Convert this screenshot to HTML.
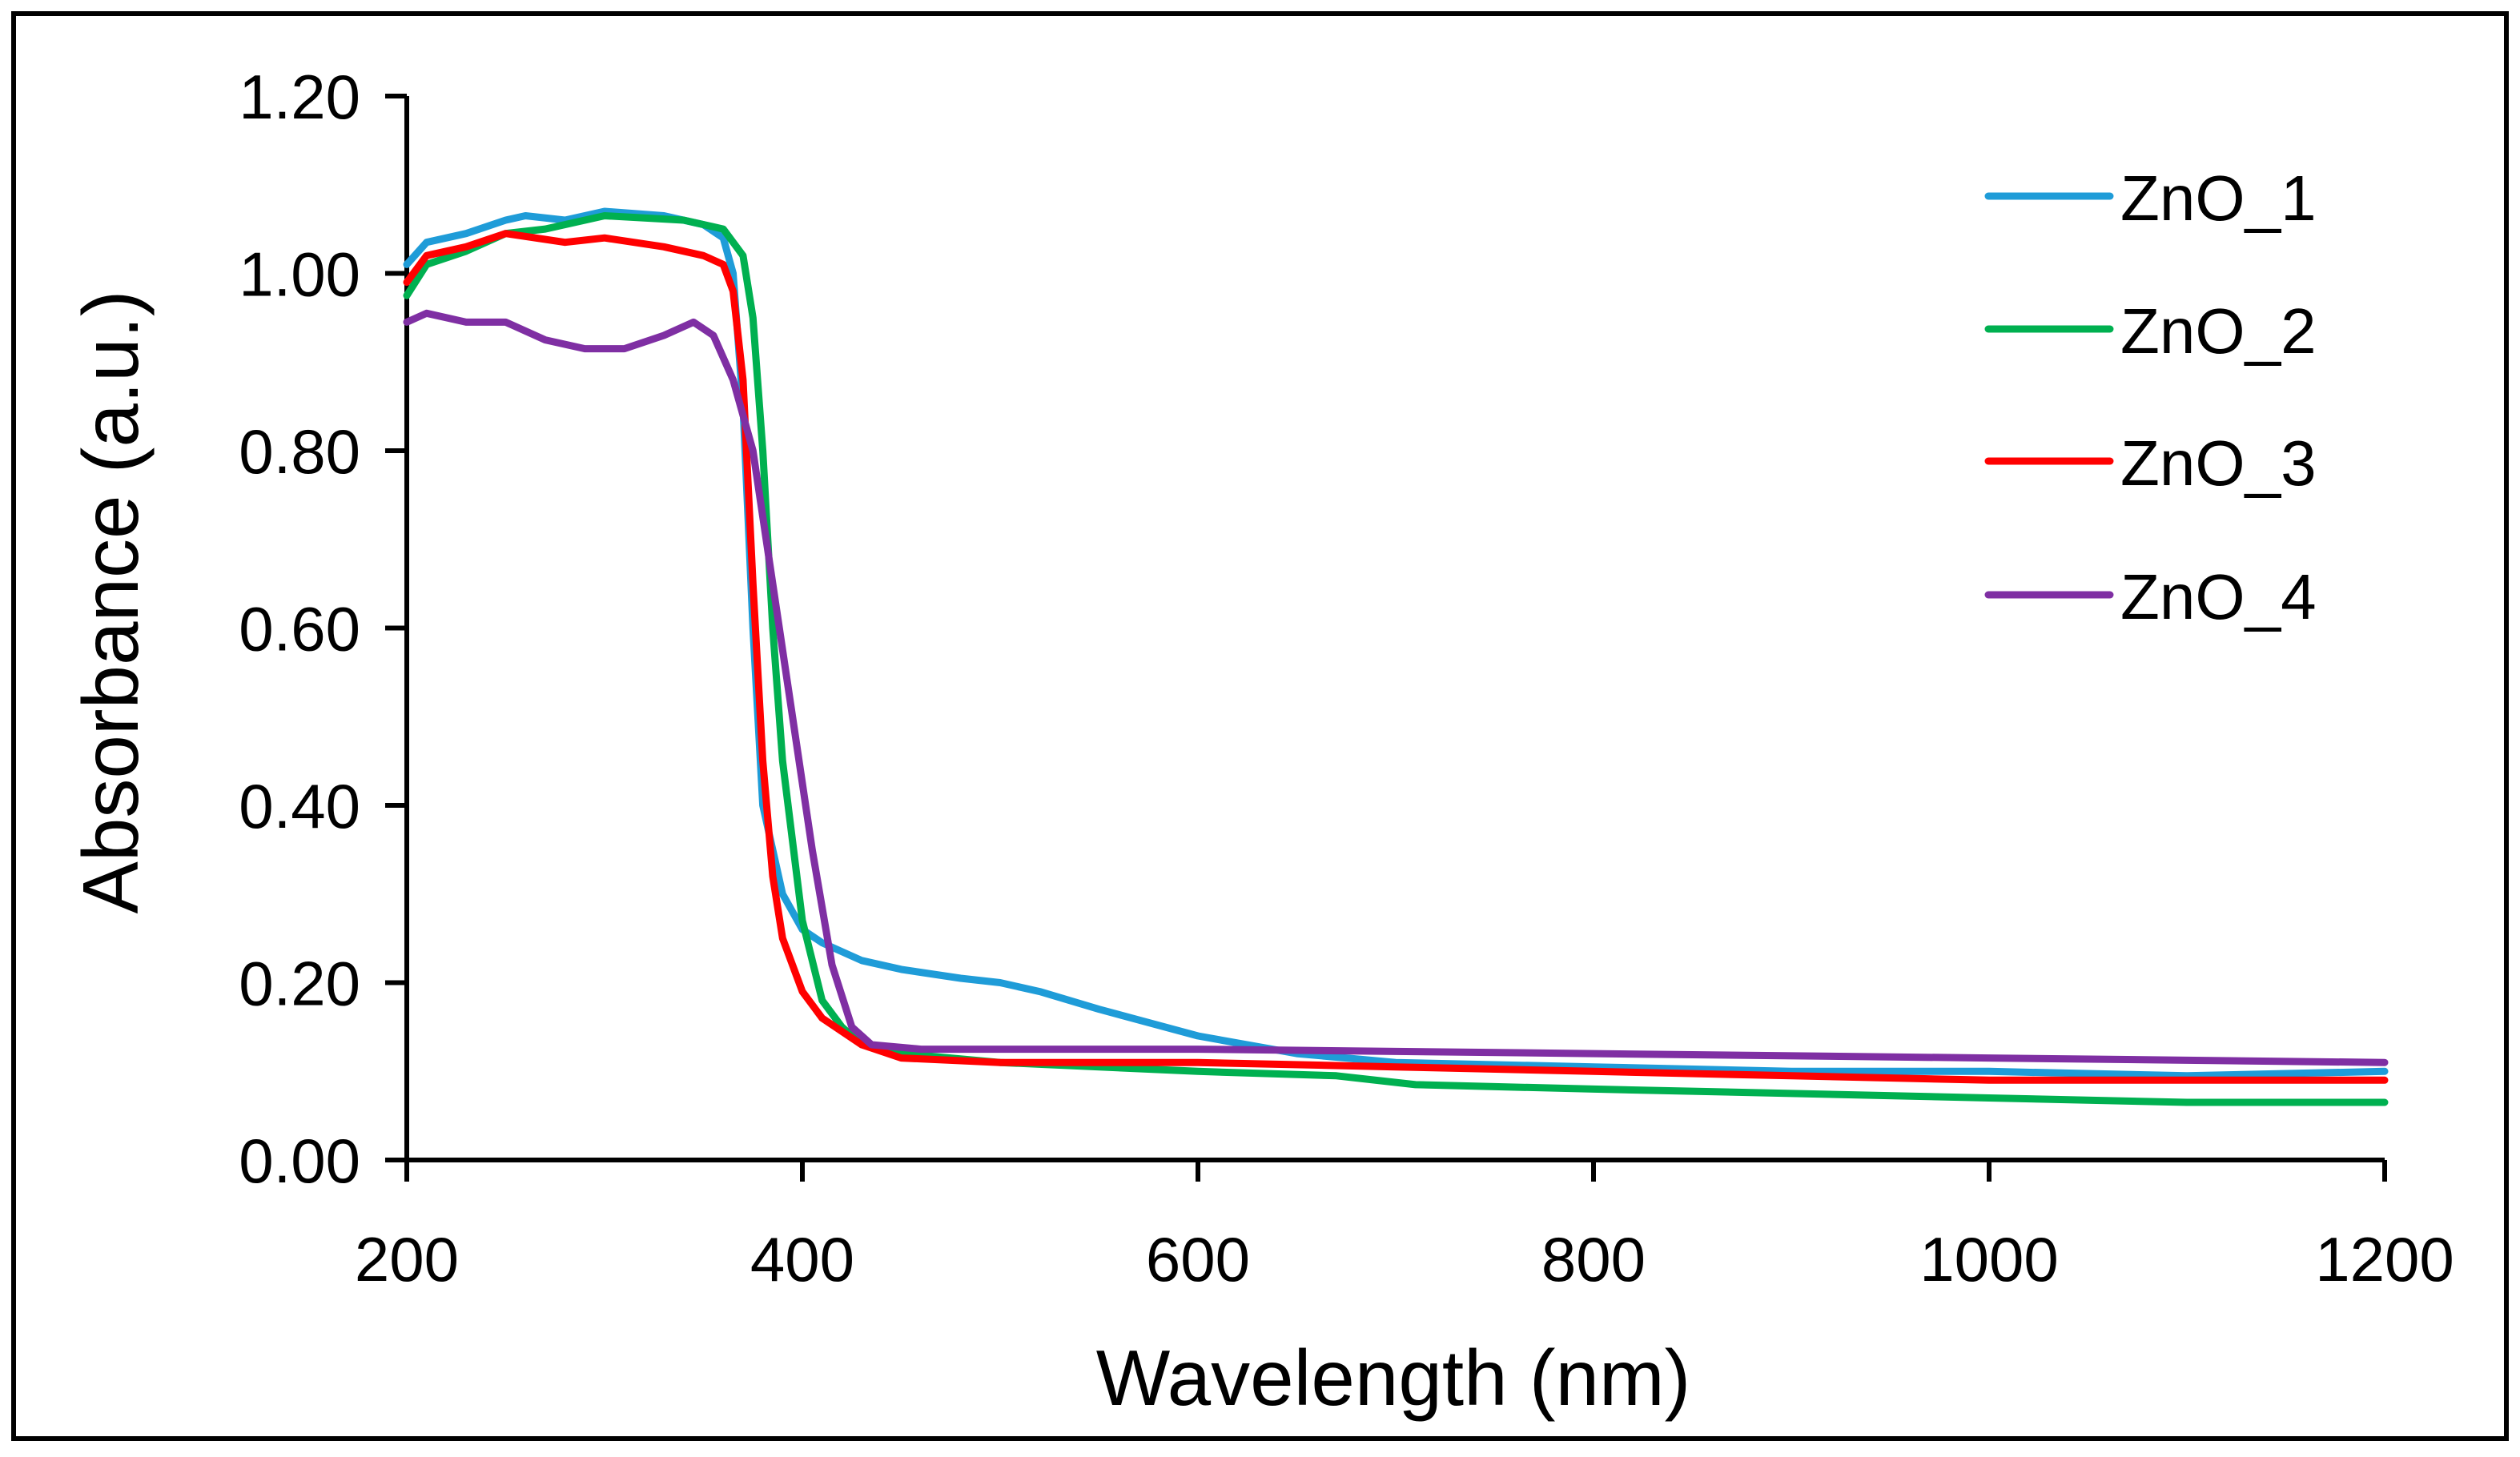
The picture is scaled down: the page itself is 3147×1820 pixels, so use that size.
<!DOCTYPE html>
<html><head><meta charset="utf-8"><style>
html,body{margin:0;padding:0;background:#fff;}
svg{display:block;font-family:"Liberation Sans",sans-serif;}
</style></head><body>
<svg id="chart" width="3147" height="1820" viewBox="0 0 3147 1820" xmlns="http://www.w3.org/2000/svg">
<rect x="17" y="17" width="3113" height="1780" fill="#fff" stroke="#000" stroke-width="6"/>
<g id="axes"></g>
<g id="series"></g>
<g id="legend"></g>
</svg>
<script>
const xTicks = [200,400,600,800,1000,1200];
const yTicks = [0,0.2,0.4,0.6,0.8,1.0,1.2];
const yTickLabels = ["0.00","0.20","0.40","0.60","0.80","1.00","1.20"];
const seriesNames = ["ZnO_1","ZnO_2","ZnO_3","ZnO_4"];
const seriesColors = ["#1f9cd8","#00b050","#ff0000","#7f2fa3"];
const wl1 = [200,210,230,250,260,280,300,330,350,360,365,370,375,380,390,400,410,430,450,480,500,520,550,600,650,700,800,900,1000,1100,1200];
const ab1 = [1.01,1.035,1.045,1.06,1.065,1.06,1.07,1.065,1.055,1.04,1.0,0.85,0.6,0.4,0.3,0.26,0.245,0.225,0.215,0.205,0.2,0.19,0.17,0.14,0.12,0.11,0.105,0.1,0.1,0.095,0.1];
const wl2 = [200,210,230,250,270,300,340,360,370,375,380,385,390,400,410,420,430,450,500,600,670,710,800,900,1000,1100,1200];
const ab2 = [0.975,1.01,1.025,1.045,1.05,1.065,1.06,1.05,1.02,0.95,0.8,0.6,0.45,0.27,0.18,0.15,0.13,0.12,0.11,0.1,0.095,0.085,0.08,0.075,0.07,0.065,0.065];
const wl3 = [200,210,230,250,280,300,330,350,360,365,370,375,380,385,390,400,410,430,450,500,600,700,800,900,1000,1200];
const ab3 = [0.99,1.02,1.03,1.045,1.035,1.04,1.03,1.02,1.01,0.98,0.88,0.65,0.45,0.32,0.25,0.19,0.16,0.13,0.115,0.11,0.11,0.105,0.1,0.095,0.09,0.09];
const wl4 = [200,210,230,250,270,290,310,330,345,355,365,375,385,395,405,415,425,435,460,500,600,800,1000,1200];
const ab4 = [0.945,0.955,0.945,0.945,0.925,0.915,0.915,0.93,0.945,0.93,0.88,0.8,0.65,0.5,0.35,0.22,0.15,0.13,0.125,0.125,0.125,0.12,0.115,0.11];
const allWl = [wl1,wl2,wl3,wl4];
const allAb = [ab1,ab2,ab3,ab4];

const X0=508, X1=2978, Y0=1449, Y1=120;
const xs = v => X0 + (v-200)/(1200-200)*(X1-X0);
const ys = v => Y0 - v/1.2*(Y0-Y1);
const NS="http://www.w3.org/2000/svg";
function mk(tag, attrs, parent){const e=document.createElementNS(NS,tag);for(const k in attrs)e.setAttribute(k,attrs[k]);parent.appendChild(e);return e;}
const axes=document.getElementById('axes');

let ya=mk('line',{x1:X0,y1:Y1,x2:X0,y2:Y0,stroke:'#000','stroke-width':6},axes);


let xa=mk('line',{x1:X0-27,y1:Y0,x2:X1,y2:Y0,stroke:'#000','stroke-width':6},axes);



yTicks.forEach((t,i)=>{
  const y=ys(t);
  const l=mk('line',{x1:X0-27,y1:y,x2:X0,y2:y,stroke:'#000','stroke-width':6},axes);
  
  
  const tx=mk('text',{x:450,y:y+28,'font-size':78,'text-anchor':'end',fill:'#000'},axes);
  tx.textContent=yTickLabels[i];
  
  
});
xTicks.forEach(t=>{
  const x=xs(t);
  const l=mk('line',{x1:x,y1:Y0,x2:x,y2:Y0+27,stroke:'#000','stroke-width':6},axes);
  
  
  const tx=mk('text',{x:x,y:1600,'font-size':78,'text-anchor':'middle',fill:'#000'},axes);
  tx.textContent=String(t);
  
  
});
const xt=mk('text',{x:1740,y:1755,'font-size':98,'text-anchor':'middle',fill:'#000'},axes);
xt.textContent='Wavelength (nm)';


const yt=mk('text',{x:0,y:0,'font-size':98,'text-anchor':'middle',fill:'#000',transform:'translate(172,752) rotate(-90)'},axes);
yt.textContent='Absorbance (a.u.)';



const sg=document.getElementById('series');
allWl.forEach((wl,s)=>{
  const pts=wl.map((w,i)=>xs(w).toFixed(1)+','+ys(allAb[s][i]).toFixed(1)).join(' ');
  const p=mk('polyline',{points:pts,fill:'none',stroke:seriesColors[s],'stroke-width':9,'stroke-linejoin':'round','stroke-linecap':'round'},sg);
  
  
});

const lg=document.getElementById('legend');
const legY=[245,411,576,743];
seriesNames.forEach((n,i)=>{
  const l=mk('line',{x1:2483,y1:legY[i],x2:2635,y2:legY[i],stroke:seriesColors[i],'stroke-width':9,'stroke-linecap':'round'},lg);
  
  
  const t=mk('text',{x:2648,y:legY[i]+30,'font-size':80,fill:'#000'},lg);
  t.textContent=n;
  
  
});
</script>
</body></html>
